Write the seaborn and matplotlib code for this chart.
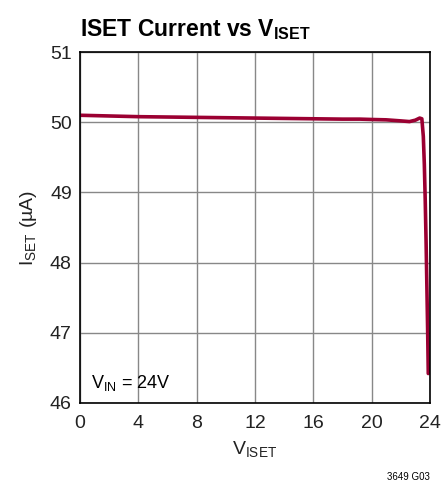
import matplotlib
matplotlib.use("Agg")
import matplotlib.pyplot as plt
import seaborn as sns
import pandas as pd

# values
v_iset = [0, 2, 4, 6, 8, 10, 12, 14, 16, 18, 19.2, 20, 21, 22, 22.6, 23.0, 23.3, 23.45, 23.55, 23.62, 23.68, 23.74, 23.8, 23.85, 23.89]
i_set = [50.10, 50.09, 50.08, 50.075, 50.07, 50.065, 50.06, 50.055, 50.05, 50.045, 50.045, 50.04, 50.035, 50.02, 50.01, 50.03, 50.06, 50.05, 49.8, 49.4, 48.9, 48.3, 47.6, 47.0, 46.42]
df = pd.DataFrame({"V": v_iset, "I": i_set})

sns.set_theme(style="white")
fam = ["Liberation Sans", "DejaVu Sans"]
plt.rcParams["font.family"] = fam
plt.rcParams["text.color"] = "black"
plt.rcParams["mathtext.fontset"] = "custom"
plt.rcParams["mathtext.rm"] = "Liberation Sans"
plt.rcParams["mathtext.bf"] = "Liberation Sans:bold"

fig = plt.figure(figsize=(4.45, 4.87), dpi=100)
ax = fig.add_axes([0.18, 0.1725, 0.786, 0.7205])

sns.lineplot(data=df, x="V", y="I", ax=ax, color="#9b0032", linewidth=2.6, sort=False)

ax.set_xlim(0, 24)
ax.set_ylim(46, 51)
ax.set_xticks(range(0, 25, 4))
ax.set_yticks(range(46, 52))
ax.grid(True, color="#888888", linewidth=1.0)
for s in ax.spines.values():
    s.set_color("black")
    s.set_linewidth(1.2)
ax.tick_params(labelsize=14, colors="#222222", length=0)
ax.tick_params(axis="x", pad=9)
ax.tick_params(axis="y", pad=6)

ax.set_xlabel(r"V$_{\mathrm{ISET}}$", fontsize=14, color="#222222", labelpad=5)
ax.set_ylabel(r"I$_{\mathrm{SET}}$ (µA)", fontsize=14, color="#222222", labelpad=8)

fig.text(0.18, 0.94, r"ISET Current vs V$_{\mathbf{ISET}}$", fontsize=16.5, fontweight="bold",
         ha="left", va="center")
ax.text(0.75, 46.29, r"V$_{\mathrm{IN}}$ = 24V", fontsize=13, ha="left", va="center")
fig.text(0.965, 0.021, "3649 G03", fontsize=7, ha="right", va="center")

fig.savefig("out.png", dpi=100)
